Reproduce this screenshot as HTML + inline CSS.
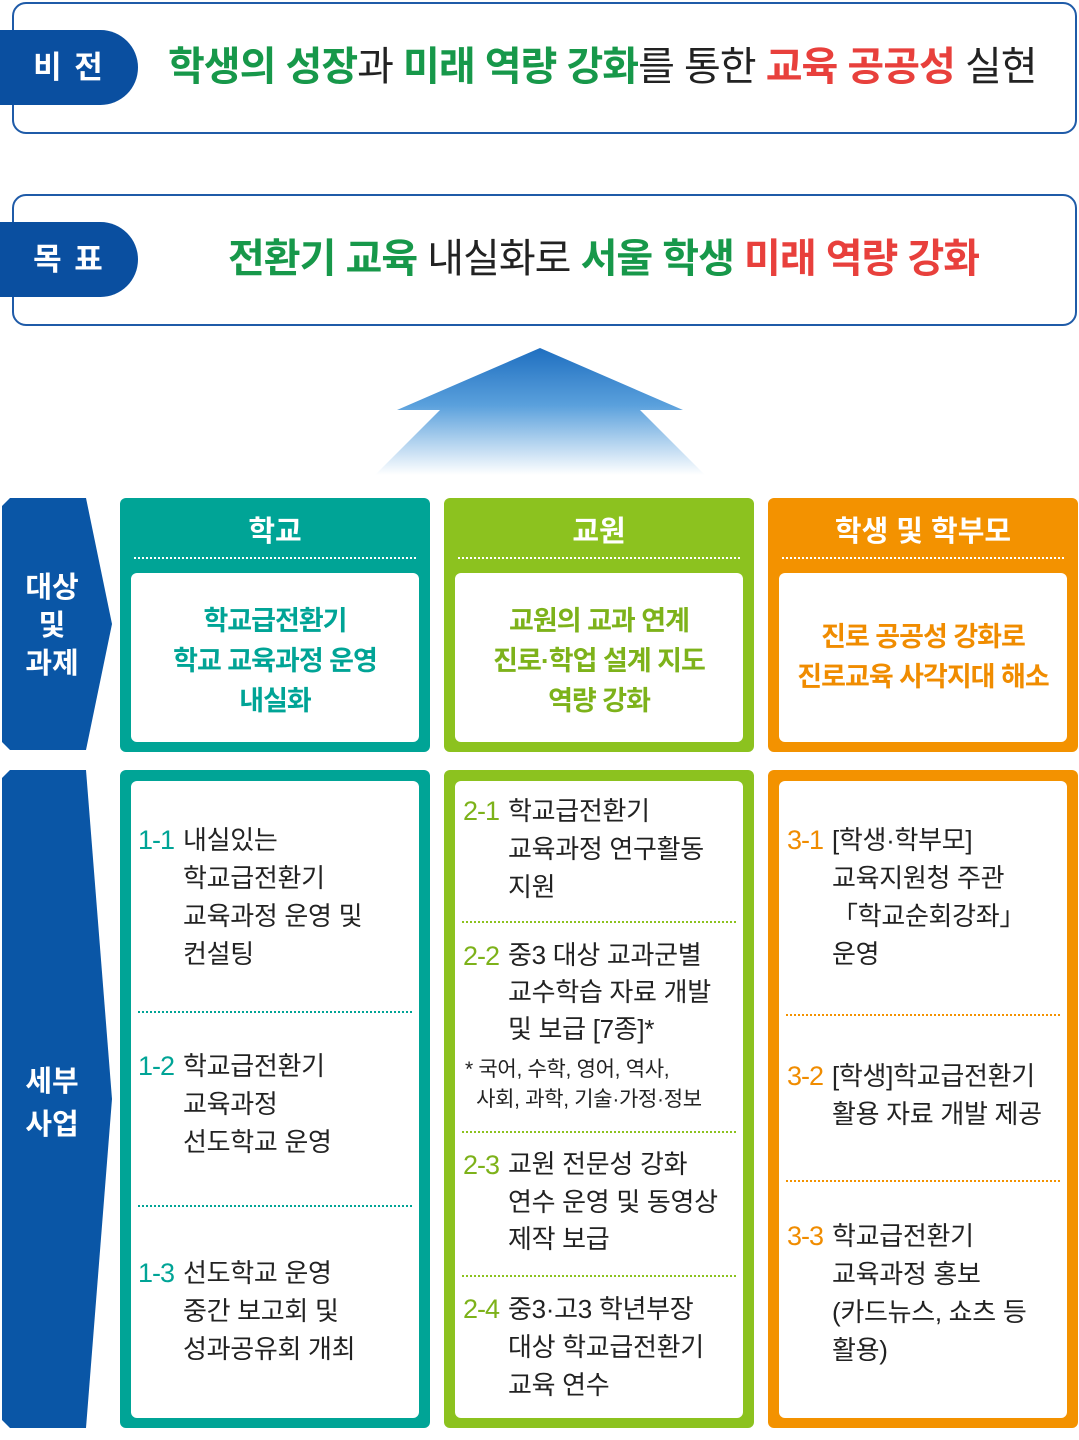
<!DOCTYPE html>
<html><head><meta charset="utf-8">
<style>
*{margin:0;padding:0;box-sizing:border-box}
body{width:1079px;height:1432px;background:#fff;position:relative;overflow:hidden;font-family:"Liberation Sans","Noto Sans CJK KR",sans-serif}
.a{position:absolute}
.box{position:absolute;left:12px;width:1065px;height:132px;border:2px solid #1f5ba8;border-radius:14px}
.badge{position:absolute;left:0;width:138px;height:75px;background:#0a4fa0;border-radius:0 38px 38px 0;color:#fff;font-weight:bold;font-size:31px;text-align:center;line-height:75px;letter-spacing:2px}
.big{position:absolute;font-size:40px;font-weight:bold;letter-spacing:-1px;white-space:nowrap;line-height:44px;color:#222}
.g{color:#17984a}.r{color:#e8403c}.k{color:#222;font-weight:normal}
.col{position:absolute;border-radius:6px}
.inner{position:absolute;background:#fff;border-radius:6px}
.ht{position:absolute;color:#fff;font-weight:bold;font-size:29px;text-align:center;width:100%}
.dot{position:absolute;height:0;border-top:2px dotted #fff}
.it{position:absolute;font-weight:bold;font-size:27px;text-align:center;letter-spacing:-1px;line-height:40px}
.l{position:absolute;font-size:26px;letter-spacing:-0.3px;color:#222;white-space:nowrap;line-height:38px}
.n{position:absolute;font-size:27px;letter-spacing:-1px;white-space:nowrap;line-height:38px}
.sep{position:absolute;height:0;border-top:2px dotted}
.lab{position:absolute;color:#fff;font-weight:bold;font-size:29px;text-align:center;width:104px;left:0;line-height:38px}
</style></head><body>

<div class="box" style="top:2px"></div>
<div class="badge" style="top:30px">비 전</div>
<div class="big" style="left:168px;top:45px"><span class="g">학생의 성장</span><span class="k">과 </span><span class="g">미래 역량 강화</span><span class="k">를 통한 </span><span class="r">교육 공공성</span><span class="k"> 실현</span></div>

<div class="box" style="top:194px"></div>
<div class="badge" style="top:222px">목 표</div>
<div class="big" style="left:228px;top:237px"><span class="g">전환기 교육</span><span class="k"> 내실화로 </span><span class="g">서울 학생</span> <span class="r">미래 역량 강화</span></div>

<svg class="a" style="left:0;top:0" width="1079" height="760">
<defs><linearGradient id="ag" x1="0" y1="0" x2="0" y2="1"><stop offset="0" stop-color="#1f6fc0"/><stop offset="0.45" stop-color="#5aa0dc"/><stop offset="1" stop-color="#ffffff"/></linearGradient></defs>
<polygon points="540,348 683,410 640,410 705,475 375,475 440,410 397,410" fill="url(#ag)"/>
<polygon points="2,506 10,498 86,498 112,624 86,750 10,750 2,742" fill="#0a56a6"/>
</svg>
<svg class="a" style="left:0;top:760px" width="120" height="680">
<polygon points="2,18 10,10 86,10 112,339 86,668 10,668 2,660" fill="#0a56a6"/>
</svg>
<div class="lab" style="top:569px">대상<br>및<br>과제</div>
<div class="lab" style="top:1061px;line-height:43px">세부<br>사업</div>

<div class="col" style="left:120px;top:498px;width:310px;height:254px;background:#00a496">
 <div class="ht" style="top:10px">학교</div>
 <div class="dot" style="left:14px;width:282px;top:59px"></div>
 <div class="inner" style="left:11px;top:75px;width:288px;height:169px"></div>
</div>
<div class="col" style="left:444px;top:498px;width:310px;height:254px;background:#8cc21f">
 <div class="ht" style="top:10px">교원</div>
 <div class="dot" style="left:14px;width:282px;top:59px"></div>
 <div class="inner" style="left:11px;top:75px;width:288px;height:169px"></div>
</div>
<div class="col" style="left:768px;top:498px;width:310px;height:254px;background:#f39200">
 <div class="ht" style="top:10px">학생 및 학부모</div>
 <div class="dot" style="left:14px;width:282px;top:59px"></div>
 <div class="inner" style="left:11px;top:75px;width:288px;height:169px"></div>
</div>
<div class="it" style="left:120px;width:310px;top:601px;color:#00a496">학교급전환기<br>학교 교육과정 운영<br>내실화</div>
<div class="it" style="left:444px;width:310px;top:601px;color:#7db21a">교원의 교과 연계<br>진로·학업 설계 지도<br>역량 강화</div>
<div class="it" style="left:768px;width:310px;top:617px;color:#f08c00">진로 공공성 강화로<br>진로교육 사각지대 해소</div>

<div class="col" style="left:120px;top:770px;width:310px;height:658px;background:#00a496"><div class="inner" style="left:11px;top:11px;width:288px;height:637px"></div></div>
<div class="col" style="left:444px;top:770px;width:310px;height:658px;background:#8cc21f"><div class="inner" style="left:11px;top:11px;width:288px;height:637px"></div></div>
<div class="col" style="left:768px;top:770px;width:310px;height:658px;background:#f39200"><div class="inner" style="left:11px;top:11px;width:288px;height:637px"></div></div>

<div class="n" style="left:138px;top:821px;color:#00a496">1-1</div>
<div class="l" style="left:183px;top:821px">내실있는<br>학교급전환기<br>교육과정 운영 및<br>컨설팅</div>
<div class="sep" style="left:138px;width:274px;top:1011px;border-color:#00a496"></div>
<div class="n" style="left:138px;top:1047px;color:#00a496">1-2</div>
<div class="l" style="left:183px;top:1047px">학교급전환기<br>교육과정<br>선도학교 운영</div>
<div class="sep" style="left:138px;width:274px;top:1205px;border-color:#00a496"></div>
<div class="n" style="left:138px;top:1254px;color:#00a496">1-3</div>
<div class="l" style="left:183px;top:1254px">선도학교 운영<br>중간 보고회 및<br>성과공유회 개최</div>

<div class="n" style="left:463px;top:792px;color:#7db21a">2-1</div>
<div class="l" style="left:508px;top:792px">학교급전환기<br>교육과정 연구활동<br>지원</div>
<div class="sep" style="left:462px;width:274px;top:921px;border-color:#8cc21f"></div>
<div class="n" style="left:463px;top:937px;color:#7db21a">2-2</div>
<div class="l" style="left:508px;top:937px;line-height:37px">중3 대상 교과군별<br>교수학습 자료 개발<br>및 보급 [7종]*</div>
<div class="l" style="left:465px;top:1055px;font-size:21px;line-height:30px">* 국어, 수학, 영어, 역사,<br>&nbsp;&nbsp;사회, 과학, 기술·가정·정보</div>
<div class="sep" style="left:462px;width:274px;top:1131px;border-color:#8cc21f"></div>
<div class="n" style="left:463px;top:1146px;color:#7db21a">2-3</div>
<div class="l" style="left:508px;top:1146px;line-height:37.5px">교원 전문성 강화<br>연수 운영 및 동영상<br>제작 보급</div>
<div class="sep" style="left:462px;width:274px;top:1275px;border-color:#8cc21f"></div>
<div class="n" style="left:463px;top:1290px;color:#7db21a">2-4</div>
<div class="l" style="left:508px;top:1290px">중3·고3 학년부장<br>대상 학교급전환기<br>교육 연수</div>

<div class="n" style="left:787px;top:821px;color:#f08c00">3-1</div>
<div class="l" style="left:832px;top:821px">[학생·학부모]<br>교육지원청 주관<br>「학교순회강좌」<br>운영</div>
<div class="sep" style="left:786px;width:274px;top:1014px;border-color:#f39200"></div>
<div class="n" style="left:787px;top:1057px;color:#f08c00">3-2</div>
<div class="l" style="left:832px;top:1057px">[학생]학교급전환기<br>활용 자료 개발 제공</div>
<div class="sep" style="left:786px;width:274px;top:1180px;border-color:#f39200"></div>
<div class="n" style="left:787px;top:1217px;color:#f08c00">3-3</div>
<div class="l" style="left:832px;top:1217px">학교급전환기<br>교육과정 홍보<br>(카드뉴스, 쇼츠 등<br>활용)</div>

</body></html>
